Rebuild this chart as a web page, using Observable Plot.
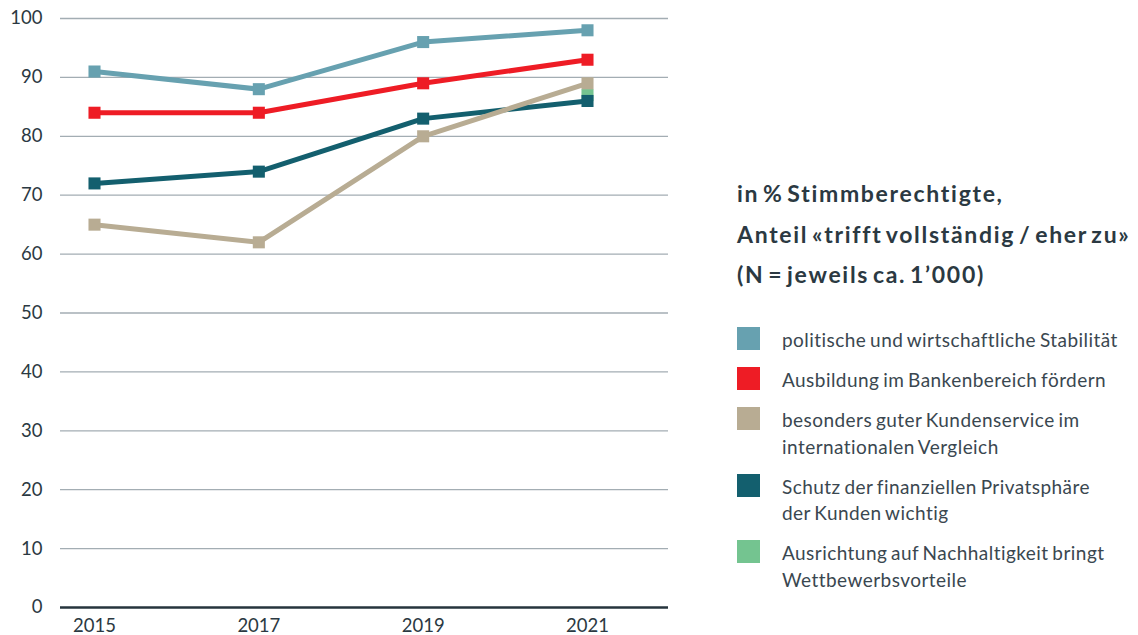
<!DOCTYPE html>
<html>
<head>
<meta charset="utf-8">
<script src="https://cdn.jsdelivr.net/npm/d3@7"></script>
<script src="https://cdn.jsdelivr.net/npm/@observablehq/plot@0.6"></script>
<style>
  html, body { margin: 0; padding: 0; background: #fff; }
  #wrap { position: relative; width: 1138px; height: 635px; font-family: Lato, "Noto Sans", sans-serif; }
  #chart { position: absolute; left: 0; top: 0; }
  #legend { position: absolute; left: 737px; top: 173px; width: 401px; color: #2b3942; }
  #legend .title { font-weight: 700; font-size: 23px; line-height: 40.5px; letter-spacing: 1.7px; word-spacing: -3.5px; margin-bottom: 32.5px; white-space: nowrap; }
  #legend .item { position: relative; padding-left: 45px; font-size: 19px; line-height: 26.5px; letter-spacing: 0.45px; word-spacing: -1.5px; margin-bottom: 13.5px; color: #3a4750; white-space: nowrap; }
  #legend .sw { position: absolute; left: 0; top: 0; width: 23px; height: 23px; }
</style>
</head>
<body>
<div id="wrap">
  <div id="chart"></div>
  <div id="legend"></div>
</div>
<script>
const years = [2015, 2017, 2019, 2021];
const seriesNames = [
  "politische und wirtschaftliche Stabilität",
  "Ausbildung im Bankenbereich fördern",
  "besonders guter Kundenservice im internationalen Vergleich",
  "Schutz der finanziellen Privatsphäre der Kunden wichtig",
  "Ausrichtung auf Nachhaltigkeit bringt Wettbewerbsvorteile"
];
const legendLines = [
  ["politische und wirtschaftliche Stabilität"],
  ["Ausbildung im Bankenbereich fördern"],
  ["besonders guter Kundenservice im", "internationalen Vergleich"],
  ["Schutz der finanziellen Privatsphäre", "der Kunden wichtig"],
  ["Ausrichtung auf Nachhaltigkeit bringt", "Wettbewerbsvorteile"]
];
const stabilitaet   = [91, 88, 96, 98];
const ausbildung    = [84, 84, 89, 93];
const kundenservice = [65, 62, 80, 89];
const privatsphaere = [72, 74, 83, 86];
const nachhaltigkeit = [null, null, null, 87];
const colors = ["#67a1b0", "#ee1c25", "#b8ac93", "#135f6e", "#74c490"];
const yTicks = [0, 10, 20, 30, 40, 50, 60, 70, 80, 90, 100];
const titleLines = ["in % Stimmberechtigte,", "Anteil «trifft vollständig / eher zu»", "(N = jeweils ca. 1’000)"];

const valueArrays = [stabilitaet, ausbildung, kundenservice, privatsphaere, nachhaltigkeit];
// drawing order: green, dark teal, beige, red, light teal
const drawOrder = [4, 3, 2, 1, 0];
const data = [];
drawOrder.forEach(si => {
  years.forEach((yr, i) => {
    const v = valueArrays[si][i];
    if (v != null) data.push({series: seriesNames[si], idx: si, year: yr, value: v});
  });
});

const marks = [
  Plot.ruleY(yTicks.filter(d => d > 0), {stroke: "#a3adb3", strokeWidth: 1.3}),
  Plot.ruleY([0], {stroke: "#26343d", strokeWidth: 2.5}),
  Plot.axisY(yTicks, {tickSize: 0, tickPadding: 18, fontSize: 18.5, fill: "#2b3942", label: null}),
  Plot.axisX(years, {tickSize: 0, tickPadding: 11, fontSize: 18.5, fill: "#2b3942", label: null, tickFormat: d => String(d)})
];
drawOrder.forEach(si => {
  const sub = data.filter(d => d.idx === si);
  marks.push(Plot.line(sub, {x: "year", y: "value", stroke: colors[si], strokeWidth: 5}));
  marks.push(Plot.dot(sub, {x: "year", y: "value", symbol: "square", r: 6.8, fill: colors[si], stroke: "none"}));
});

const chart = Plot.plot({
  width: 690,
  height: 635,
  marginLeft: 60,
  marginRight: 22,
  marginTop: 18,
  marginBottom: 28,
  style: {fontFamily: "Lato, 'Noto Sans', sans-serif", background: "#fff"},
  x: {domain: [2015, 2021], range: [94, 587], axis: null, label: null},
  y: {domain: [0, 100], axis: null, label: null},
  marks
});
document.getElementById("chart").appendChild(chart);

const legend = document.getElementById("legend");
const t = document.createElement("div");
t.className = "title";
t.innerHTML = titleLines.map(s => `<div>${s}</div>`).join("");
legend.appendChild(t);
seriesNames.forEach((name, i) => {
  const it = document.createElement("div");
  it.className = "item";
  it.innerHTML = `<span class="sw" style="background:${colors[i]}"></span>` + legendLines[i].map(s => `<div>${s}</div>`).join("");
  legend.appendChild(it);
});
</script>
</body>
</html>
